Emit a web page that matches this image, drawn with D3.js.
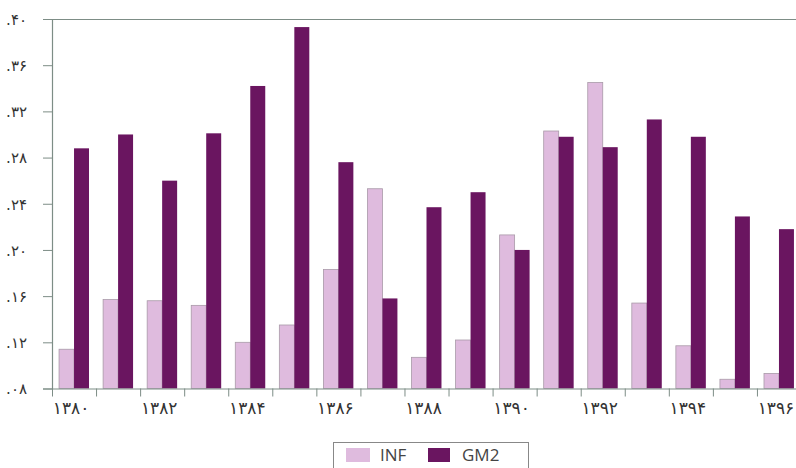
<!DOCTYPE html>
<html><head><meta charset="utf-8">
<script src="https://cdn.jsdelivr.net/npm/d3@7/dist/d3.min.js"></script>
<style>body{margin:0;background:#fff}svg{display:block}</style>
</head><body>
<svg id="c" width="796" height="468"></svg>
<script>
const years = ["۱۳۸۰","۱۳۸۱","۱۳۸۲","۱۳۸۳","۱۳۸۴","۱۳۸۵","۱۳۸۶","۱۳۸۷","۱۳۸۸","۱۳۸۹","۱۳۹۰","۱۳۹۱","۱۳۹۲","۱۳۹۳","۱۳۹۴","۱۳۹۵","۱۳۹۶"];
const INF = [0.114,0.157,0.156,0.152,0.120,0.135,0.183,0.253,0.107,0.122,0.213,0.303,0.345,0.154,0.117,0.088,0.093];
const GM2 = [0.288,0.300,0.260,0.301,0.342,0.393,0.276,0.158,0.237,0.250,0.200,0.298,0.289,0.313,0.298,0.229,0.218];
const yTicks = [0.08,0.12,0.16,0.20,0.24,0.28,0.32,0.36,0.40];
const yTickLabels = [".۰۸",".۱۲",".۱۶",".۲۰",".۲۴",".۲۸",".۳۲",".۳۶",".۴۰"];
const xLabelYears = ["۱۳۸۰","۱۳۸۲","۱۳۸۴","۱۳۸۶","۱۳۸۸","۱۳۹۰","۱۳۹۲","۱۳۹۴","۱۳۹۶"];
const series = ["INF","GM2"];

const svg = d3.select("#c");
const L = 52, R = 801, T = 19, B = 388.5;
const axisColor = "#7d8d86";
const colors = {INF:"#dfbbde", GM2:"#6a1560"};

const x = d3.scaleBand().domain(years).range([L, R]);
const y = d3.scaleLinear().domain([0.08, 0.40]).range([B, T]);
const bw = x.bandwidth();
const x1 = d3.scaleBand().domain(series).range([bw*0.16, bw*0.84]);

// top border
svg.append("line").attr("x1",L).attr("x2",796).attr("y1",T+0.5).attr("y2",T+0.5)
  .attr("stroke",axisColor).attr("stroke-width",1.2);

// bars
const g = svg.append("g");
years.forEach((yr,i)=>{
  g.append("rect").attr("x", x(yr)+x1("INF")).attr("y", y(INF[i]))
    .attr("width", x1.bandwidth()).attr("height", y(0.08)-y(INF[i]))
    .attr("fill", colors.INF).attr("stroke","#a99aa8").attr("stroke-width",0.8);
  g.append("rect").attr("x", x(yr)+x1("GM2")).attr("y", y(GM2[i]))
    .attr("width", x1.bandwidth()).attr("height", y(0.08)-y(GM2[i]))
    .attr("fill", colors.GM2);
});

// y axis
const yAxis = d3.axisLeft(y).tickValues(yTicks).tickSize(9).tickPadding(16)
  .tickFormat((d,i)=>yTickLabels[i]);
const ya = svg.append("g").attr("transform",`translate(${L},0)`).call(yAxis);
ya.select(".domain").attr("stroke",axisColor).attr("stroke-width",1.2);
ya.selectAll(".tick line").attr("stroke",axisColor);
ya.selectAll(".tick text").attr("font-family","DejaVu Sans, sans-serif").attr("font-size",15)
  .attr("fill","#333").attr("direction","ltr").attr("dy","0.35em");

// x axis
const xAxis = d3.axisBottom(x).tickSize(0).tickFormat(d=> xLabelYears.includes(d)?d:"");
const xa = svg.append("g").attr("transform",`translate(0,${B})`).call(xAxis);
xa.select(".domain").attr("stroke",axisColor).attr("stroke-width",1.2);
xa.selectAll(".tick text").attr("font-family","DejaVu Sans, sans-serif").attr("font-size",17)
  .attr("fill","#333").attr("dx",-3).attr("y",13);
// boundary ticks
xa.selectAll(".bt").data(years).enter().append("line").attr("class","bt")
  .attr("x1",d=>x(d)+0.5).attr("x2",d=>x(d)+0.5).attr("y1",0).attr("y2",8)
  .attr("stroke",axisColor).attr("stroke-width",1);

// legend
const lg = svg.append("g");
lg.append("rect").attr("x",333.5).attr("y",442.5).attr("width",195).attr("height",40)
  .attr("fill","#fff").attr("stroke","#888").attr("stroke-width",1);
const lItems = [{k:"INF",sx:346,tx:380},{k:"GM2",sx:428,tx:462}];
lItems.forEach(it=>{
  lg.append("rect").attr("x",it.sx).attr("y",448).attr("width",it.k==="INF"?24:22).attr("height",14)
    .attr("fill",colors[it.k]);
  lg.append("text").attr("x",it.tx).attr("y",461).text(it.k)
    .attr("font-family","Open Sans, sans-serif").attr("font-size",17).attr("fill","#444");
});
</script>
</body></html>
